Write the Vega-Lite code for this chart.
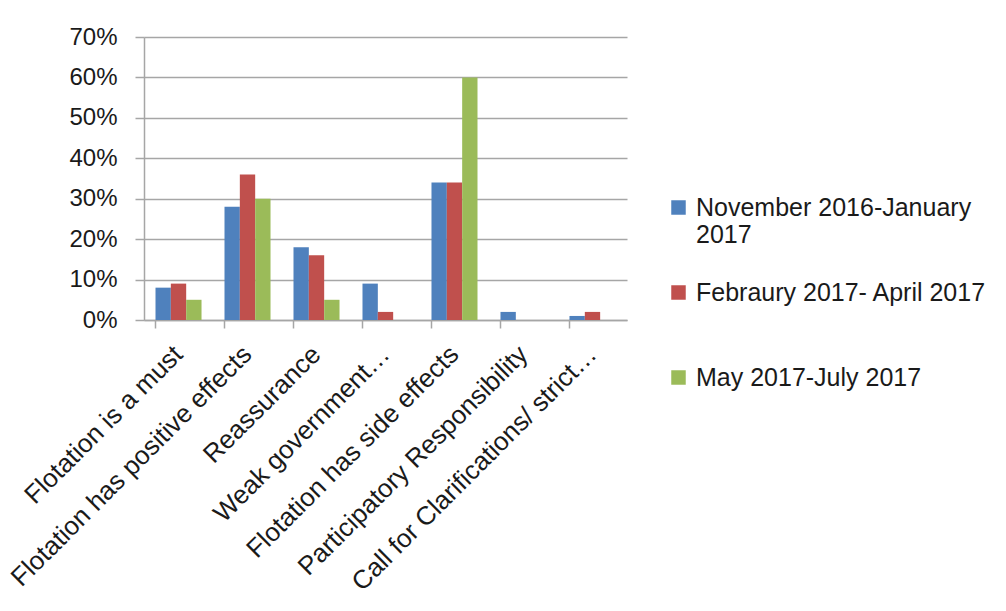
{
  "$schema": "https://vega.github.io/schema/vega-lite/v6.json",
  "autosize": "none",
  "width": 483,
  "height": 283,
  "padding": {"left": 144, "top": 37, "right": 379, "bottom": 291},
  "background": "white",
  "data": {"values": [
    {"cat": "Flotation is a must", "period": "November 2016-January 2017", "v": 0.08},
    {"cat": "Flotation is a must", "period": "Febraury 2017- April 2017", "v": 0.09},
    {"cat": "Flotation is a must", "period": "May 2017-July 2017", "v": 0.05},
    {"cat": "Flotation has positive effects", "period": "November 2016-January 2017", "v": 0.28},
    {"cat": "Flotation has positive effects", "period": "Febraury 2017- April 2017", "v": 0.36},
    {"cat": "Flotation has positive effects", "period": "May 2017-July 2017", "v": 0.30},
    {"cat": "Reassurance", "period": "November 2016-January 2017", "v": 0.18},
    {"cat": "Reassurance", "period": "Febraury 2017- April 2017", "v": 0.16},
    {"cat": "Reassurance", "period": "May 2017-July 2017", "v": 0.05},
    {"cat": "Weak government…", "period": "November 2016-January 2017", "v": 0.09},
    {"cat": "Weak government…", "period": "Febraury 2017- April 2017", "v": 0.02},
    {"cat": "Weak government…", "period": "May 2017-July 2017", "v": 0.0},
    {"cat": "Flotation has side effects", "period": "November 2016-January 2017", "v": 0.34},
    {"cat": "Flotation has side effects", "period": "Febraury 2017- April 2017", "v": 0.34},
    {"cat": "Flotation has side effects", "period": "May 2017-July 2017", "v": 0.60},
    {"cat": "Participatory Responsibility", "period": "November 2016-January 2017", "v": 0.02},
    {"cat": "Participatory Responsibility", "period": "Febraury 2017- April 2017", "v": 0.0},
    {"cat": "Participatory Responsibility", "period": "May 2017-July 2017", "v": 0.0},
    {"cat": "Call for Clarifications/ strict…", "period": "November 2016-January 2017", "v": 0.01},
    {"cat": "Call for Clarifications/ strict…", "period": "Febraury 2017- April 2017", "v": 0.02},
    {"cat": "Call for Clarifications/ strict…", "period": "May 2017-July 2017", "v": 0.0}
  ]},
  "resolve": {"axis": {"x": "independent"}},
  "layer": [
    {
      "mark": {"type": "bar"},
      "encoding": {
        "x": {
          "field": "cat", "type": "nominal", "sort": null, "title": null,
          "scale": {"paddingInner": 0.333, "paddingOuter": 0.1667},
          "axis": {"orient": "bottom", "labelAngle": -45, "labelAlign": "right", "labelBaseline": "middle", "ticks": false,
                   "labelFontSize": 26, "labelPadding": 30, "labelLimit": 600}
        },
        "xOffset": {"field": "period", "type": "nominal", "sort": null},
        "y": {
          "field": "v", "type": "quantitative", "title": null,
          "scale": {"domain": [0, 0.7], "nice": false},
          "axis": {"format": ".0%", "values": [0, 0.1, 0.2, 0.3, 0.4, 0.5, 0.6, 0.7], "tickSize": 9, "labelPadding": 18, "labelFontSize": 24}
        },
        "color": {
          "field": "period", "type": "nominal", "sort": null, "title": null,
          "scale": {"range": ["#4F81BD", "#C0504D", "#9BBB59"]},
          "legend": {
            "orient": "none", "legendX": 522, "legendY": 158,
            "symbolType": "square", "symbolSize": 210, "symbolStrokeWidth": 0,
            "labelFontSize": 25, "labelOffset": 5, "rowPadding": 32, "gridAlign": "all",
            "labelLimit": 400,
            "labelExpr": "datum.label == 'November 2016-January 2017' ? ['November 2016-January', '2017'] : datum.label"
          }
        }
      }
    },
    {
      "mark": {"type": "bar", "opacity": 0},
      "encoding": {
        "x": {
          "field": "cat", "type": "nominal", "sort": null, "title": null,
          "axis": {"orient": "bottom", "labels": false, "ticks": true, "tickSize": 8, "bandPosition": 0, "domain": false}
        },
        "y": {"field": "v", "type": "quantitative"}
      }
    }
  ],
  "config": {
    "font": "Liberation Sans",
    "view": {"stroke": null},
    "axis": {"labelColor": "#1a1a1a", "domainColor": "#A6A6A6", "tickColor": "#A6A6A6", "gridColor": "#A6A6A6", "domainWidth": 1.5, "gridWidth": 1.5, "tickWidth": 1.5},
    "axisX": {"grid": false},
    "legend": {"labelColor": "#1a1a1a"}
  }
}
